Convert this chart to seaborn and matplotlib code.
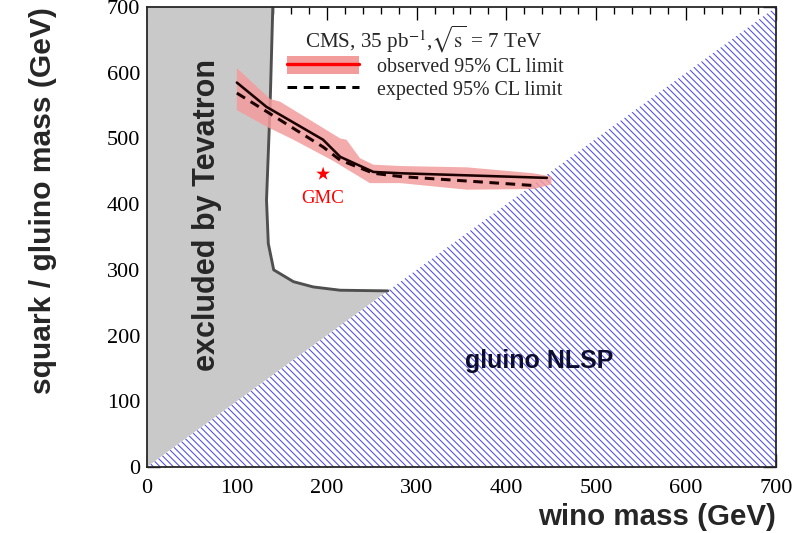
import matplotlib
matplotlib.use("Agg")
import matplotlib.pyplot as plt
import seaborn as sns
import pandas as pd
from matplotlib.lines import Line2D
from matplotlib.patches import Patch
from matplotlib.ticker import MultipleLocator

# Tevatron exclusion boundary (wino mass, squark/gluino mass)
tev_x = [140, 137, 133, 135, 141, 152, 163, 185, 215, 268]
tev_y = [700, 550, 406, 340, 300, 291, 282, 274, 269, 268]

# Observed 95% CL limit and its uncertainty band
obs_x = [100, 133, 196, 215, 252, 282, 445]
obs_y = [585, 548, 498, 472, 449, 447, 440]
band_up_x = [100, 137, 148, 215, 222, 237, 252, 282, 356, 430, 450]
band_up_y = [607, 560, 556, 500, 498, 470, 460, 458, 456, 447, 442]
band_lo_x = [100, 133, 163, 207, 248, 282, 356, 430, 450]
band_lo_y = [543, 518, 498, 466, 432, 432, 422, 423, 430]

# Expected 95% CL limit
exp_x = [100, 133, 196, 215, 252, 282, 434]
exp_y = [569, 541, 487, 467, 447, 442, 428]

# GMC benchmark point
gmc_x = [196]
gmc_y = [446]

ticks = [0, 100, 200, 300, 400, 500, 600, 700]

sns.set_style("ticks")
plt.rcParams["font.family"] = ["Liberation Serif", "DejaVu Serif"]
plt.rcParams["mathtext.fontset"] = "stix"
plt.rcParams["hatch.linewidth"] = 0.95

SANS = ["Liberation Sans", "DejaVu Sans"]

fig = plt.figure(figsize=(10.1, 6.6625), dpi=80)
ax = fig.add_axes([147 / 808, 1 - 467 / 533, 629 / 808, 460 / 533])

# grey Tevatron-excluded area
grey_x = [0, 0] + tev_x + [0]
grey_y = [0, 700] + tev_y + [0]
ax.fill(grey_x, grey_y, facecolor="#c9c9c9", edgecolor="none", zorder=1)

# gluino NLSP region (below the diagonal)
ax.fill([0, 700, 700], [0, 0, 700], facecolor="white", edgecolor="#5050e6",
        hatch="\\\\\\\\", linewidth=0, zorder=1)

tev_df = pd.DataFrame({"x": tev_x, "y": tev_y})
sns.lineplot(data=tev_df, x="x", y="y", sort=False, estimator=None, ax=ax,
             color="#4f4f4f", linewidth=2.6, zorder=3)

# observed band
band_x = band_up_x + band_lo_x[::-1]
band_y = band_up_y + band_lo_y[::-1]
ax.fill(band_x, band_y, facecolor="#f39c9c", edgecolor="none", alpha=0.85, zorder=4)

obs_df = pd.DataFrame({"x": obs_x, "y": obs_y})
exp_df = pd.DataFrame({"x": exp_x, "y": exp_y})
sns.lineplot(data=obs_df, x="x", y="y", sort=False, estimator=None, ax=ax,
             color="#1a0000", linewidth=2.3, zorder=5)
sns.lineplot(data=exp_df, x="x", y="y", sort=False, estimator=None, ax=ax,
             color="#1a0000", linewidth=2.7, linestyle=(0, (3.2, 2.2)), zorder=5)

sns.scatterplot(x=gmc_x, y=gmc_y, marker="*", s=170, color="red",
                edgecolor="none", ax=ax, zorder=6)
ax.text(gmc_x[0], 408, "GMC", color="red", fontsize=17, ha="center",
        va="center", zorder=6)

ax.text(67, 384, "excluded by Tevatron", rotation=90, fontsize=27.5,
        fontweight="bold", family=SANS, ha="center", va="center", zorder=6)
ax.text(437, 162, "gluino NLSP", fontsize=22.5, fontweight="bold",
        family=SANS, color="#0d0d30", ha="center", va="center", zorder=6)

ax.set_xlim(0, 700)
ax.set_ylim(0, 700)
ax.set_xticks(ticks)
ax.set_yticks(ticks)
ax.xaxis.set_minor_locator(MultipleLocator(20))
ax.yaxis.set_minor_locator(MultipleLocator(20))
ax.tick_params(which="both", direction="in", top=True, right=True,
               width=1.2, colors="black", labelsize=20)
ax.tick_params(which="major", length=12)
ax.tick_params(which="minor", length=6)
ax.tick_params(axis="x", which="major", pad=11)
ax.tick_params(axis="y", which="major", pad=6)
for s in ax.spines.values():
    s.set_linewidth(1.6)
    s.set_zorder(7)

ax.set_xlabel("wino mass (GeV)", loc="right", fontsize=26.5, fontweight="bold",
              family=SANS, labelpad=4)
ax.set_ylabel("squark / gluino mass (GeV)", loc="top", fontsize=27,
              fontweight="bold", family=SANS, labelpad=45)

# legend header and entries
ax.text(0.2512, 0.93, r"CMS, 35 pb$^{\mathrm{-1}}$,$\sqrt{\mathrm{s}}$ = 7 TeV",
        transform=ax.transAxes, fontsize=19, ha="left", va="center", zorder=8)
obs_handle = (Patch(facecolor="#f39c9c", edgecolor="none"),
              Line2D([], [], color="red", linewidth=3))
exp_handle = Line2D([], [], color="black", linewidth=2.7,
                    linestyle=(0, (3.2, 2.2)))
leg = ax.legend([obs_handle, exp_handle],
                ["observed 95% CL limit", "expected 95% CL limit"],
                loc="upper left", bbox_to_anchor=(0.222, 0.893), frameon=False,
                fontsize=18, handlelength=3.6,
                handleheight=1.0, handletextpad=0.9, labelspacing=0.1,
                borderaxespad=0, borderpad=0)
leg.set_zorder(8)

fig.savefig("out.png", dpi=80)
